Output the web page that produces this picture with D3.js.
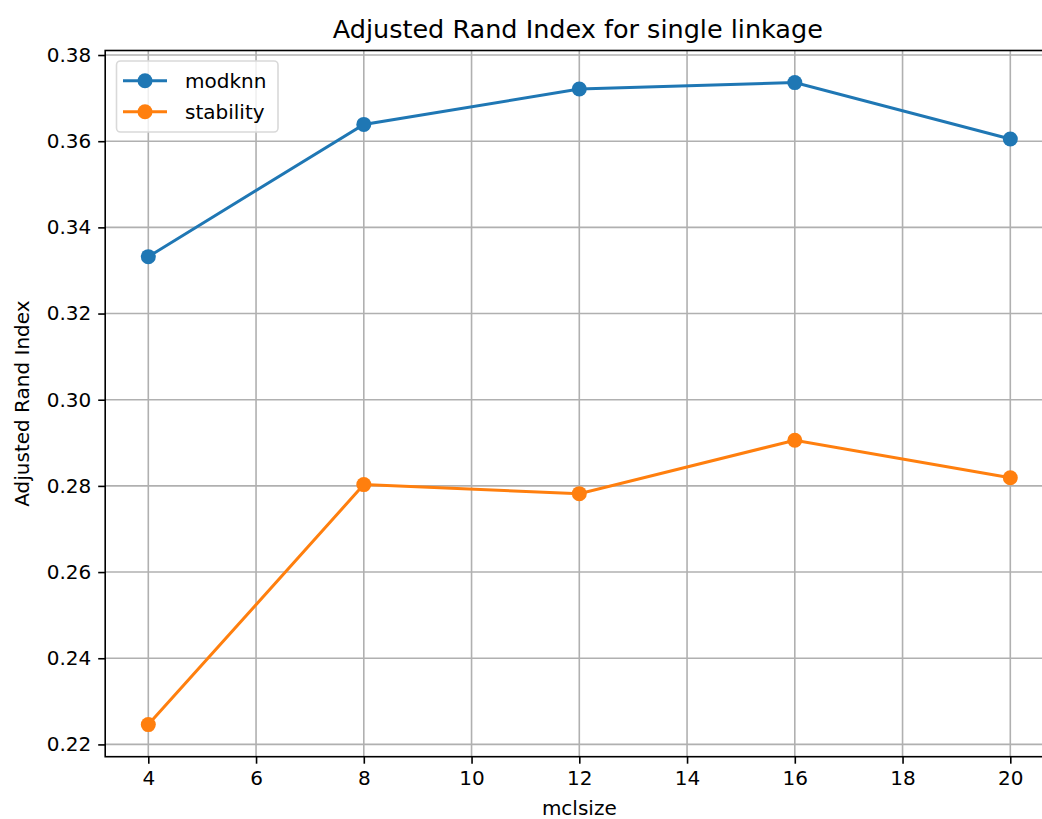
<!DOCTYPE html>
<html>
<head>
<meta charset="utf-8">
<script src="https://cdn.jsdelivr.net/npm/d3@7"></script>
<style>
  body { margin: 0; background: #fff; }
  svg { display: block; font-family: "DejaVu Sans", sans-serif; }
</style>
</head>
<body>
<svg id="chart" width="1042" height="819"></svg>
<script>
// data
const mclsize = [4, 8, 12, 16, 20];
const modknn = [0.3332, 0.3639, 0.3721, 0.3736, 0.3605];
const stability = [0.2246, 0.2803, 0.2782, 0.2906, 0.2819];
const xTicks = [4, 6, 8, 10, 12, 14, 16, 18, 20];
const yTicks = [0.22, 0.24, 0.26, 0.28, 0.30, 0.32, 0.34, 0.36, 0.38];
const seriesNames = ["modknn", "stability"];
const seriesColors = ["#1f77b4", "#ff7f0e"];

document.addEventListener('DOMContentLoaded', () => {
    const svg = d3.select("#chart");
    const left = 105.2, right = 1053.4, top = 50.5, bottom = 756.7;

    // matplotlib style 5% margins
    const pad = (lo, hi) => { const m = (hi - lo) * 0.05; return [lo - m, hi + m]; };
    const xDom = pad(d3.min(mclsize), d3.max(mclsize));
    const allY = modknn.concat(stability);
    const yDom = pad(d3.min(allY), d3.max(allY));

    const x = d3.scaleLinear().domain(xDom).range([left, right]);
    const y = d3.scaleLinear().domain(yDom).range([bottom, top]);

    // grid
    const grid = svg.append("g").attr("stroke", "#b0b0b0").attr("stroke-width", 1.6);
    grid.selectAll(".vg").data(xTicks).enter().append("line")
        .attr("x1", d => x(d)).attr("x2", d => x(d))
        .attr("y1", top).attr("y2", bottom);
    grid.selectAll(".hg").data(yTicks).enter().append("line")
        .attr("x1", left).attr("x2", right)
        .attr("y1", d => y(d)).attr("y2", d => y(d));

    // series
    const series = [modknn, stability];
    const line = d3.line().x((d, i) => x(mclsize[i])).y(d => y(d));
    series.forEach((vals, s) => {
        svg.append("path")
            .datum(vals)
            .attr("d", line)
            .attr("fill", "none")
            .attr("stroke", seriesColors[s])
            .attr("stroke-width", 3);
        svg.selectAll(".pt" + s).data(vals).enter().append("circle")
            .attr("cx", (d, i) => x(mclsize[i]))
            .attr("cy", d => y(d))
            .attr("r", 7.5)
            .attr("fill", seriesColors[s]);
    });

    // axes
    const xAxis = d3.axisBottom(x).tickValues(xTicks).tickSize(7).tickPadding(7).tickFormat(d3.format("d"));
    const yAxis = d3.axisLeft(y).tickValues(yTicks).tickSize(7).tickPadding(7).tickFormat(d3.format(".2f"));

    const gx = svg.append("g").attr("transform", `translate(0,${bottom})`).call(xAxis);
    const gy = svg.append("g").attr("transform", `translate(${left},0)`).call(yAxis);
    [gx, gy].forEach(g => {
        g.select(".domain").remove();
        g.selectAll(".tick line").attr("stroke", "#000").attr("stroke-width", 1.6);
        g.selectAll(".tick text").attr("fill", "#000").style("font-size", "20px")
            .style("font-family", "DejaVu Sans, sans-serif");
    });

    // spines
    svg.append("rect")
        .attr("x", left).attr("y", top)
        .attr("width", right - left).attr("height", bottom - top)
        .attr("fill", "none").attr("stroke", "#000").attr("stroke-width", 1.6);

    // legend
    const lg = svg.append("g");
    lg.append("rect")
        .attr("x", 116.5).attr("y", 61).attr("width", 161.5).attr("height", 71)
        .attr("rx", 4).attr("fill", "#fff").attr("fill-opacity", 0.8)
        .attr("stroke", "#d9d9d9").attr("stroke-width", 1.6);
    seriesNames.forEach((name, i) => {
        const cy = 80.7 + i * 31;
        lg.append("line").attr("x1", 123).attr("x2", 167).attr("y1", cy).attr("y2", cy)
            .attr("stroke", seriesColors[i]).attr("stroke-width", 3);
        lg.append("circle").attr("cx", 145).attr("cy", cy).attr("r", 7.5).attr("fill", seriesColors[i]);
        lg.append("text").attr("x", 185).attr("y", cy + 7).text(name)
            .style("font-size", "20px").attr("fill", "#000");
    });

    // labels
    svg.append("text").attr("x", (left + right) / 2 - 1.5).attr("y", 38)
        .attr("text-anchor", "middle").style("font-size", "25.5px")
        .text("Adjusted Rand Index for single linkage");
    svg.append("text").attr("x", (left + right) / 2).attr("y", 815)
        .attr("text-anchor", "middle").style("font-size", "20px")
        .text("mclsize");
    svg.append("text")
        .attr("transform", `translate(29,${(top + bottom) / 2}) rotate(-90)`)
        .attr("text-anchor", "middle").style("font-size", "20px")
        .text("Adjusted Rand Index");
});
</script>
</body>
</html>
